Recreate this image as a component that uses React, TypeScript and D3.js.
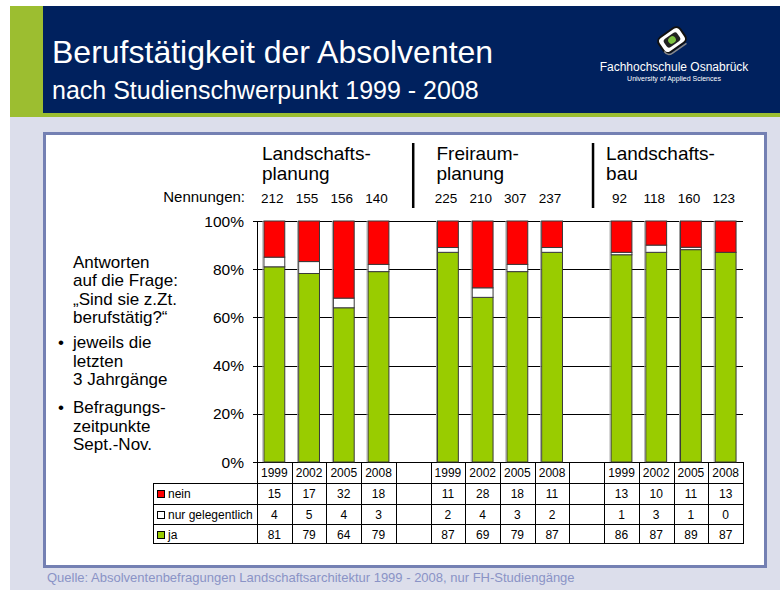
import React from 'react';
import * as d3 from 'd3';

const groupTitles = [['Landschafts-', 'planung'], ['Freiraum-', 'planung'], ['Landschafts-', 'bau']];
const years = ['1999', '2002', '2005', '2008'];
const nennungen = [[212, 155, 156, 140], [225, 210, 307, 237], [92, 118, 160, 123]];
const nein = [[15, 17, 32, 18], [11, 28, 18, 11], [13, 10, 11, 13]];
const gelegentlich = [[4, 5, 4, 3], [2, 4, 3, 2], [1, 3, 1, 0]];
const ja = [[81, 79, 64, 79], [87, 69, 79, 87], [86, 87, 89, 87]];
const yTicks = [0, 20, 40, 60, 80, 100];
const seriesKeys = ['ja', 'gel', 'nein'];
const seriesLabels: Record<string, string> = { nein: 'nein', gel: 'nur gelegentlich', ja: 'ja' };
const seriesColors: Record<string, string> = { nein: '#ff0000', gel: '#ffffff', ja: '#99cc00' };
const tableOrder = ['nein', 'gel', 'ja'];
const seriesValues: Record<string, number[][]> = { nein, gel: gelegentlich, ja };
const leftText1 = ['Antworten', 'auf die Frage:', '\u201ESind sie z.Zt.', 'berufst\u00E4tig?\u201C'];
const bullets = [['jeweils die', 'letzten', '3 Jahrg\u00E4nge'], ['Befragungs-', 'zeitpunkte', 'Sept.-Nov.']];

const FONT = '"Liberation Sans", Arial, Helvetica, sans-serif';

export default function App() {
  const W = 780, H = 590;
  const slotOf = (g: number, i: number) => g * 5 + i;
  const x = d3.scaleBand<number>().domain(d3.range(14)).range([257, 743]).padding(0);
  const bw = x.bandwidth();
  const barW = bw * 0.6;
  const y = d3.scaleLinear().domain([0, 1]).range([462, 221]);

  const rows: any[] = [];
  groupTitles.forEach((_, g) => years.forEach((yr, i) => {
    rows.push({ slot: slotOf(g, i), ja: ja[g][i], gel: gelegentlich[g][i], nein: nein[g][i] });
  }));
  const stacked = d3.stack<any>().keys(seriesKeys).offset(d3.stackOffsetExpand)(rows);

  const rowY0 = 462;
  const rowHs = [21, 21, 20, 19];
  const rowTops = [rowY0];
  rowHs.forEach((h, k) => rowTops.push(rowTops[k] + h));
  const legendLeft = 153;
  const xEnd = 743;

  return (
    <svg width={W} height={H} style={{ position: 'absolute', left: 0, top: 0, display: 'block' }} fontFamily={FONT}>
      <rect x={0} y={0} width={W} height={H} fill="#ffffff" />
      <rect x={10} y={117} width={W - 10} height={H - 117} fill="#dcdeeb" />
      <rect x={10} y={6} width={33} height={111} fill="#9cbe30" />
      <rect x={43} y={6} width={W - 43} height={107} fill="#00215e" />
      <rect x={43} y={113} width={W - 43} height={4} fill="#9cbe30" />

      <text x={52} y={63} fontSize={32} fill="#ffffff">Berufstätigkeit der Absolventen</text>
      <text x={52} y={99} fontSize={25} fill="#ffffff">nach Studienschwerpunkt 1999 - 2008</text>

      <g transform="translate(672,40) rotate(-35)">
        <rect x={-13} y={-9} width={26} height={18} rx={5} fill="#ffffff" stroke="#111" strokeWidth={2} />
        <rect x={-8} y={-5} width={16} height={10} rx={3} fill="#222" />
        <ellipse cx={0} cy={0} rx={4} ry={3.5} fill="#7dc241" />
        <path d="M-13,5 Q-13,11 -7,11 L10,11" fill="none" stroke="#888" strokeWidth={1.5} />
      </g>
      <text x={674} y={71} fontSize={12} fill="#ffffff" textAnchor="middle">Fachhochschule Osnabrück</text>
      <text x={674} y={81} fontSize={7} fill="#ffffff" textAnchor="middle">University of Applied Sciences</text>

      <rect x={44.5} y={133.5} width={721} height={433} fill="#ffffff" stroke="#7480b3" strokeWidth={3} />

      {leftText1.map((t, k) => (
        <text key={'l' + k} x={73} y={268 + k * 18.3} fontSize={17} fill="#000">{t}</text>
      ))}
      {bullets.map((b, bi) => (
        <g key={'b' + bi}>
          <text x={58} y={[348, 413][bi]} fontSize={17} fill="#000">•</text>
          {b.map((t, k) => (
            <text key={k} x={73} y={[348, 413][bi] + k * 18.5} fontSize={17} fill="#000">{t}</text>
          ))}
        </g>
      ))}

      {groupTitles.map((gt, g) => (
        <g key={'gt' + g}>
          {gt.map((t, k) => (
            <text key={k} x={(x(slotOf(g, 0)) as number) + (bw - barW) / 2 - [2, 1, 5][g]} y={160 + k * 20} fontSize={19} fill="#000">{t}</text>
          ))}
        </g>
      ))}
      <line x1={(x(4) as number) + bw / 2} x2={(x(4) as number) + bw / 2} y1={143} y2={208} stroke="#000" strokeWidth={2.5} />
      <line x1={(x(9) as number) + bw * 0.68} x2={(x(9) as number) + bw * 0.68} y1={143} y2={208} stroke="#000" strokeWidth={2.5} />

      <text x={245} y={202} fontSize={15} textAnchor="end" fill="#000">Nennungen:</text>
      {nennungen.map((arr, g) => arr.map((n, i) => (
        <text key={'n' + g + i} x={(x(slotOf(g, i)) as number) + bw / 2 - 2} y={203} fontSize={13.5} textAnchor="middle" fill="#000">{n}</text>
      )))}

      {yTicks.map(t => (
        <g key={'t' + t}>
          <line x1={253} x2={xEnd} y1={Math.round(y(t / 100)) + 0.5} y2={Math.round(y(t / 100)) + 0.5} stroke="#000" strokeWidth={1} />
          <text x={244} y={y(t / 100) + 5.5} fontSize={15.5} textAnchor="end" fill="#000">{t}%</text>
        </g>
      ))}

      {stacked.map(s => (
        <g key={s.key} fill={seriesColors[s.key]}>
          {s.map((d: any, k: number) => {
            const sx = (x(d.data.slot) as number) + (bw - barW) / 2;
            const h = y(d[0]) - y(d[1]);
            if (h <= 0) return null;
            return <rect key={k} x={sx} y={y(d[1])} width={barW} height={h} stroke="#3a3a3a" strokeWidth={1} />;
          })}
        </g>
      ))}
      {rows.map((r, k) => (
        <line key={'sh' + k} x1={(x(r.slot) as number) + (bw - barW) / 2 - 1} x2={(x(r.slot) as number) + (bw - barW) / 2 - 1} y1={y(1)} y2={y(0)} stroke="#a0a0a0" strokeWidth={1} />
      ))}

      <line x1={257.5} x2={257.5} y1={y(1)} y2={rowTops[4]} stroke="#000" strokeWidth={1} />

      {d3.range(15).map(k => {
        const xx = Math.round(257 + k * bw) + 0.5;
        return <line key={'v' + k} x1={xx} x2={xx} y1={rowTops[0]} y2={rowTops[4]} stroke="#000" strokeWidth={1} />;
      })}
      <line x1={legendLeft + 0.5} x2={legendLeft + 0.5} y1={rowTops[1]} y2={rowTops[4]} stroke="#000" strokeWidth={1} />
      {[1, 2, 3, 4].map(k => (
        <line key={'h' + k} x1={legendLeft} x2={xEnd + 1} y1={rowTops[k] + 0.5} y2={rowTops[k] + 0.5} stroke="#000" strokeWidth={1} />
      ))}
      {groupTitles.map((_, g) => years.map((yr, i) => (
        <text key={'y' + g + i} x={(x(slotOf(g, i)) as number) + bw / 2} y={rowTops[0] + 15} fontSize={12} textAnchor="middle" fill="#000">{yr}</text>
      )))}
      {tableOrder.map((key, r) => (
        <g key={'r' + key}>
          <rect x={157.5} y={rowTops[r + 1] + 7.5} width={7} height={7} fill={seriesColors[key]} stroke="#000" strokeWidth={1} />
          <text x={168} y={rowTops[r + 1] + 15} fontSize={12} fill="#000">{seriesLabels[key]}</text>
          {seriesValues[key].map((arr, g) => arr.map((v, i) => (
            <text key={g + '-' + i} x={(x(slotOf(g, i)) as number) + bw / 2} y={rowTops[r + 1] + 15} fontSize={12} textAnchor="middle" fill="#000">{v}</text>
          )))}
        </g>
      ))}

      <text x={47} y={582} fontSize={13} fill="#8a93c6">Quelle: Absolventenbefragungen Landschaftsarchitektur 1999 - 2008, nur FH-Studiengänge</text>
    </svg>
  );
}
